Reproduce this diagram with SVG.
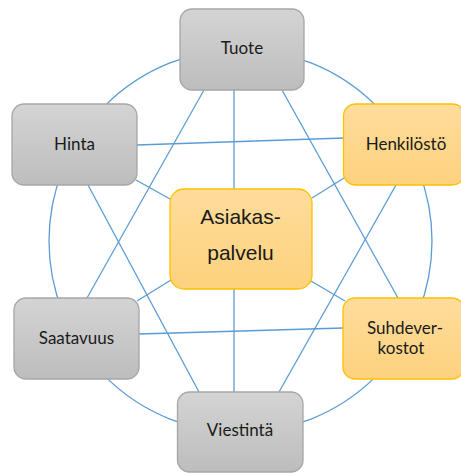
<svg xmlns="http://www.w3.org/2000/svg" width="461" height="473" viewBox="0 0 461 473">
<defs>
<linearGradient id="gGray" x1="0" y1="0" x2="0" y2="1">
<stop offset="0" stop-color="#d4d4d4"/>
<stop offset="1" stop-color="#bdbdbd"/>
</linearGradient>
<linearGradient id="gGold" x1="0" y1="0" x2="0" y2="1">
<stop offset="0" stop-color="#fedc9c"/>
<stop offset="1" stop-color="#fdd27d"/>
</linearGradient>
</defs>
<style>
.conn line, .conn circle { stroke: #5b9bd5; stroke-width: 1.3; fill: none; }
.gray { fill: url(#gGray); stroke: #a6a6a6; stroke-width: 1.3; }
.gold { fill: url(#gGold); stroke: #ffc000; stroke-width: 1.3; }
.lbl { font-family: Lato, "Open Sans", sans-serif; font-size: 17px; fill: #1a1a1a; text-anchor: middle; }
.big { font-family: "Liberation Sans", Arial, sans-serif; font-size: 21px; fill: #1a1a1a; text-anchor: middle; }
</style>
<g class="conn" id="connectors">
<circle cx="240.5" cy="241" r="191.5"/>
<line x1="204" y1="90" x2="87" y2="298"/>
<line x1="234" y1="90" x2="234" y2="189"/>
<line x1="282" y1="90" x2="398" y2="298"/>
<line x1="137" y1="145" x2="344" y2="138"/>
<line x1="136" y1="180" x2="170" y2="199"/>
<line x1="88" y1="185" x2="199" y2="392"/>
<line x1="344" y1="178" x2="312" y2="198"/>
<line x1="396" y1="185" x2="279" y2="392"/>
<line x1="234" y1="289" x2="234" y2="392"/>
<line x1="137" y1="301" x2="171" y2="280"/>
<line x1="311" y1="281" x2="345" y2="301"/>
<line x1="139" y1="334" x2="343" y2="328"/>
</g>
<g id="tuote">
<rect class="gray" x="180" y="9" width="124" height="81" rx="12"/>
<text class="lbl" x="242" y="54">Tuote</text>
</g>
<g id="hinta">
<rect class="gray" x="12" y="104" width="125" height="81" rx="12"/>
<text class="lbl" x="74.5" y="150">Hinta</text>
</g>
<g id="henkilosto">
<rect class="gold" x="343.5" y="104" width="121" height="81" rx="12"/>
<text class="lbl" x="406" y="150">Henkilöstö</text>
</g>
<g id="asiakaspalvelu">
<rect class="gold" x="170" y="189" width="142" height="100" rx="14"/>
<text class="big" x="240.5" y="224">Asiakas-</text>
<text class="big" x="240.5" y="259.5">palvelu</text>
</g>
<g id="saatavuus">
<rect class="gray" x="14" y="298" width="125" height="81" rx="12"/>
<text class="lbl" x="76.5" y="344">Saatavuus</text>
</g>
<g id="suhdeverkostot">
<rect class="gold" x="343" y="298" width="121" height="81" rx="12"/>
<text class="lbl" x="405" y="334">Suhdever-</text>
<text class="lbl" x="401" y="354">kostot</text>
</g>
<g id="viestinta">
<rect class="gray" x="177.5" y="392" width="125.5" height="80" rx="12"/>
<text class="lbl" x="240" y="436">Viestintä</text>
</g>
</svg>
